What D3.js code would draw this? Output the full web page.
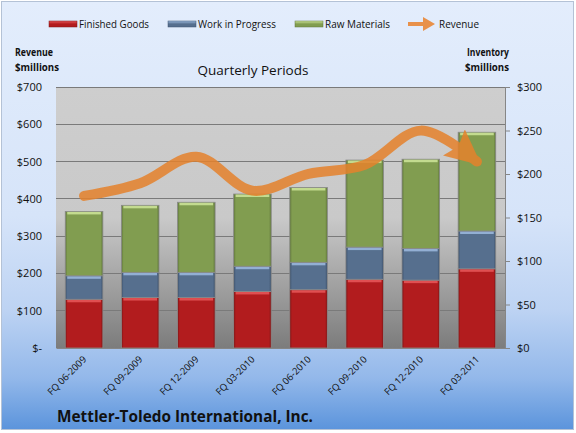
<!DOCTYPE html>
<html>
<head>
<meta charset="utf-8">
<script src="https://cdn.jsdelivr.net/npm/d3@7"></script>
<style>
  body { margin: 0; background: #fff; }
  svg { display: block; font-family: "Open Sans", "Noto Sans", sans-serif; }
</style>
</head>
<body>
<svg id="chart" width="576" height="433"></svg>
<script>
// Données
const periods = ['FQ 06-2009', 'FQ 09-2009', 'FQ 12-2009', 'FQ 03-2010', 'FQ 06-2010', 'FQ 09-2010', 'FQ 12-2010', 'FQ 03-2011'];
const finishedGoods = [56, 58, 58, 65, 67, 79, 78, 91];
const workInProgress = [27, 29, 29, 29, 31.5, 37, 36.5, 43.5];
const rawMaterials = [74, 77, 80.5, 83, 86, 100, 102.5, 113.5];
const revenue = [408, 442, 513, 422, 467, 491, 583, 500];
const revenueTicks = [0, 100, 200, 300, 400, 500, 600, 700];
const inventoryTicks = [0, 50, 100, 150, 200, 250, 300];

const svg = d3.select('#chart');
const defs = svg.append('defs');

const plot = { left: 56, right: 505, top: 87, bottom: 348 };

// Dégradés de fond
function vGradient(id, stops) {
    const g = defs.append('linearGradient').attr('id', id)
        .attr('x1', 0).attr('y1', 0).attr('x2', 0).attr('y2', 1);
    stops.forEach(s => g.append('stop').attr('offset', s[0]).attr('stop-color', s[1]));
}
vGradient('bg', [[0, '#e3edfc'], [0.5, '#d6e4f9'], [0.72, '#bdd3f3'], [0.88, '#93b8ea'], [1, '#5b94dc']]);
vGradient('plotbg', [[0, '#cecece'], [0.5, '#c9c9c9'], [1, '#7c7c7c']]);

svg.append('rect')
   .attr('x', 1.5).attr('y', 1.5).attr('width', 572).attr('height', 428)
   .attr('fill', 'url(#bg)')
   .attr('stroke', '#b4c2d6');

svg.append('rect')
   .attr('x', plot.left).attr('y', plot.top)
   .attr('width', plot.right - plot.left).attr('height', plot.bottom - plot.top)
   .attr('fill', 'url(#plotbg)');

// Échelles
const x = d3.scaleBand()
            .domain(periods)
            .range([plot.left, plot.right])
            .paddingInner(0.33)
            .paddingOuter(0.165);

const yLeft = d3.scaleLinear().domain([0, 700]).range([plot.bottom, plot.top]);
const yRight = d3.scaleLinear().domain([0, 300]).range([plot.bottom, plot.top]);

// Quadrillage
svg.append('g')
   .selectAll('line')
   .data(revenueTicks.slice(1))
   .join('line')
   .attr('x1', plot.left).attr('x2', plot.right)
   .attr('y1', d => yLeft(d)).attr('y2', d => yLeft(d))
   .attr('stroke', '#7a7a7a')
   .attr('stroke-width', 1)
   .attr('shape-rendering', 'crispEdges');

// Barres empilées
const series = [
    { key: 'fg', name: 'Finished Goods', values: finishedGoods, fill: '#b21c1e', light: '#e8585a', edge: '#7d1515' },
    { key: 'wip', name: 'Work in Progress', values: workInProgress, fill: '#566f8e', light: '#9dbbe0', edge: '#3e526c' },
    { key: 'rm', name: 'Raw Materials', values: rawMaterials, fill: '#819d50', light: '#cfe69a', edge: '#5f7639' }
];

const table = periods.map((p, i) => {
    const row = { period: p };
    series.forEach(s => { row[s.key] = s.values[i]; });
    return row;
});

const stacked = d3.stack().keys(series.map(s => s.key))(table);

series.forEach(s => {
    const g = defs.append('linearGradient').attr('id', 'bar-' + s.key)
        .attr('x1', 0).attr('y1', 0).attr('x2', 1).attr('y2', 0);
    g.append('stop').attr('offset', 0).attr('stop-color', s.edge);
    g.append('stop').attr('offset', 0.06).attr('stop-color', s.fill);
    g.append('stop').attr('offset', 0.94).attr('stop-color', s.fill);
    g.append('stop').attr('offset', 1).attr('stop-color', s.edge);
});

stacked.forEach((layer, li) => {
    const s = series[li];
    const g = svg.append('g');
    g.selectAll('rect.seg')
     .data(layer)
     .join('rect')
     .attr('class', 'seg')
     .attr('x', d => x(d.data.period))
     .attr('y', d => yRight(d[1]))
     .attr('width', x.bandwidth())
     .attr('height', d => yRight(d[0]) - yRight(d[1]))
     .attr('fill', 'url(#bar-' + s.key + ')')
     .attr('stroke', '#8a8a8a')
     .attr('stroke-width', 0.8);
    // liseré clair du haut
    g.selectAll('rect.top')
     .data(layer)
     .join('rect')
     .attr('class', 'top')
     .attr('x', d => x(d.data.period) + 2)
     .attr('y', d => yRight(d[1]) + 0.5)
     .attr('width', x.bandwidth() - 4)
     .attr('height', 2.5)
     .attr('fill', s.light)
     .attr('opacity', 0.85);
});

// Axe gauche
svg.append('g')
   .attr('transform', `translate(${plot.left},0)`)
   .call(d3.axisLeft(yLeft).tickValues(revenueTicks).tickSize(0).tickPadding(14)
        .tickFormat(d => d === 0 ? '$-' : '$' + d))
   .call(g => g.select('.domain').remove())
   .call(g => g.selectAll('text').attr('font-size', 11).attr('fill', '#111')
        .attr('font-family', '"Open Sans", sans-serif'));

// Axe droit
svg.append('g')
   .attr('transform', `translate(${plot.right},0)`)
   .call(d3.axisRight(yRight).tickValues(inventoryTicks).tickSize(5).tickPadding(7)
        .tickFormat(d => '$' + d))
   .call(g => g.select('.domain').attr('stroke', '#868686'))
   .call(g => g.selectAll('line').attr('stroke', '#868686'))
   .call(g => g.selectAll('text').attr('font-size', 11).attr('fill', '#111')
        .attr('font-family', '"Open Sans", sans-serif'));

// Axe du bas
svg.append('g')
   .attr('transform', `translate(0,${plot.bottom})`)
   .call(d3.axisBottom(x).tickSize(0).tickPadding(0))
   .call(g => g.select('.domain').attr('stroke', '#868686'))
   .call(g => g.selectAll('text')
        .attr('font-size', 9.5)
        .attr('fill', '#111')
        .attr('font-family', '"Open Sans", sans-serif')
        .attr('text-anchor', 'end')
        .attr('dy', null)
        .attr('transform', 'translate(3,12) rotate(-45)'));

// Courbe du chiffre d'affaires
const revColor = '#e5822c';
const marker = defs.append('marker')
    .attr('id', 'arrow')
    .attr('viewBox', '0 -1.7 3.6 3.4')
    .attr('refX', 3.0).attr('refY', 0)
    .attr('markerWidth', 3.6).attr('markerHeight', 3.4)
    .attr('orient', 'auto');
marker.append('path').attr('d', 'M0,-1.7 L3.6,0 L0,1.7 L0.6,0 Z').attr('fill', revColor);

const line = d3.line()
    .x((d, i) => x(periods[i]) + x.bandwidth() / 2)
    .y(d => yLeft(d))
    .curve(d3.curveCatmullRom.alpha(0.5));

svg.append('g')
   .attr('opacity', 0.85)
   .append('path')
   .datum(revenue)
   .attr('fill', 'none')
   .attr('stroke', revColor)
   .attr('stroke-width', 10)
   .attr('stroke-linecap', 'round')
   .attr('marker-end', 'url(#arrow)')
   .attr('d', line);

// Légende
const legend = svg.append('g').attr('font-size', 11).attr('fill', '#111');
const legendX = [49, 168, 295];
const legendTextLen = [70, 78, 65];
series.forEach((s, i) => {
    const gid = 'leg-' + s.key;
    const g = defs.append('linearGradient').attr('id', gid)
        .attr('x1', 0).attr('y1', 0).attr('x2', 0).attr('y2', 1);
    g.append('stop').attr('offset', 0).attr('stop-color', s.light);
    g.append('stop').attr('offset', 0.5).attr('stop-color', s.fill);
    g.append('stop').attr('offset', 1).attr('stop-color', s.fill);
    legend.append('rect')
          .attr('x', legendX[i]).attr('y', 21)
          .attr('width', 28).attr('height', 6)
          .attr('fill', 'url(#' + gid + ')')
          .attr('stroke', s.edge).attr('stroke-width', 0.5);
    legend.append('text')
          .attr('x', legendX[i] + 30).attr('y', 28)
          .attr('textLength', legendTextLen[i])
          .attr('lengthAdjust', 'spacingAndGlyphs')
          .text(s.name);
});
legend.append('line')
      .attr('x1', 408).attr('x2', 424).attr('y1', 24).attr('y2', 24)
      .attr('stroke', '#e8914a').attr('stroke-width', 4);
legend.append('path')
      .attr('d', 'M423,17 L435,24 L423,31 Z')
      .attr('fill', '#e8914a');
legend.append('text').attr('x', 439).attr('y', 28)
      .attr('textLength', 40).attr('lengthAdjust', 'spacingAndGlyphs')
      .text('Revenue');

// Titres d'axes
const axisTitle = svg.append('g').attr('font-size', 10.5).attr('font-weight', 'bold').attr('fill', '#111')
    .attr('lengthAdjust', 'spacingAndGlyphs');
axisTitle.append('text').attr('x', 15).attr('y', 56).attr('textLength', 38).text('Revenue');
axisTitle.append('text').attr('x', 15).attr('y', 71).attr('textLength', 44).text('$millions');
axisTitle.append('text').attr('x', 467).attr('y', 56).attr('textLength', 42).text('Inventory');
axisTitle.append('text').attr('x', 465).attr('y', 71).attr('textLength', 44).text('$millions');
axisTitle.selectAll('text').attr('lengthAdjust', 'spacingAndGlyphs');

svg.append('text')
   .attr('x', 253).attr('y', 75)
   .attr('text-anchor', 'middle')
   .attr('font-size', 13.5)
   .attr('fill', '#111')
   .text('Quarterly Periods');

svg.append('text')
   .attr('x', 57).attr('y', 422)
   .attr('font-size', 16.5)
   .attr('font-weight', 'bold')
   .attr('fill', '#111')
   .attr('textLength', 256)
   .attr('lengthAdjust', 'spacingAndGlyphs')
   .text('Mettler-Toledo International, Inc.');
</script>
</body>
</html>
